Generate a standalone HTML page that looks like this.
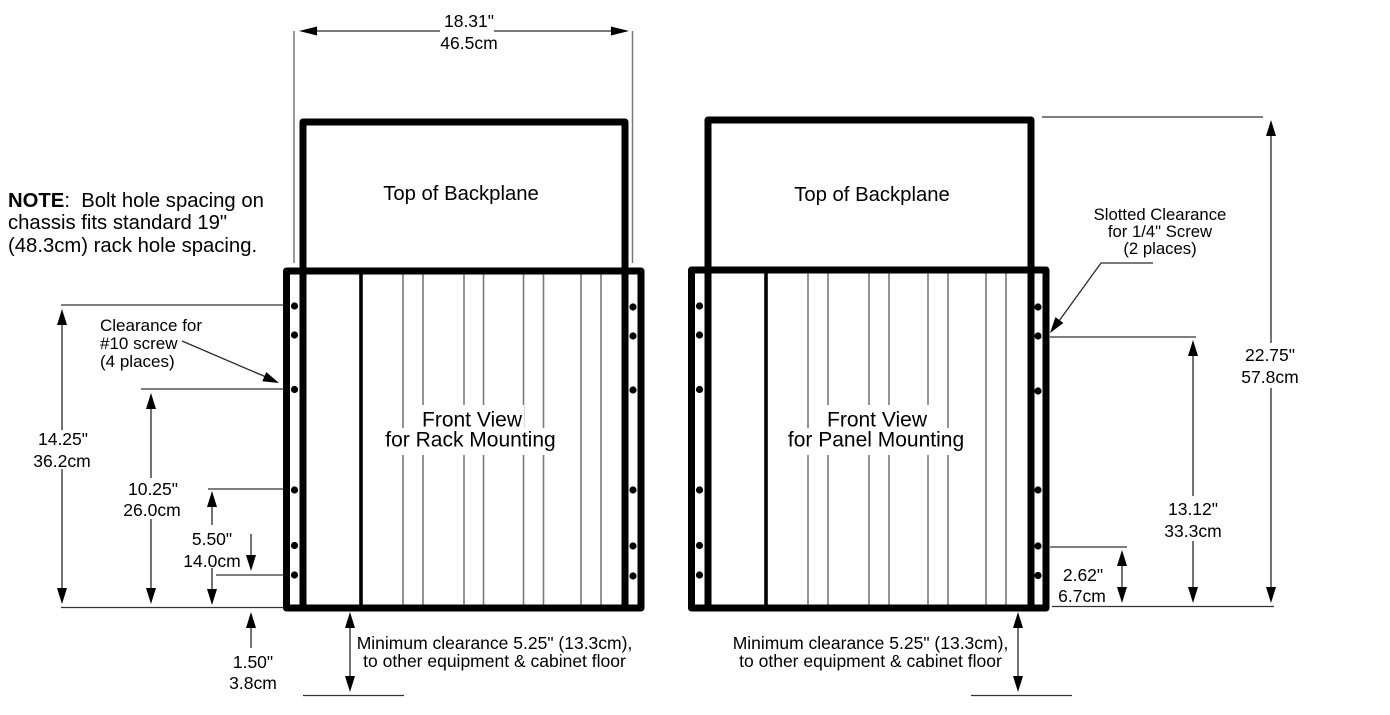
<!DOCTYPE html>
<html><head><meta charset="utf-8"><style>
html,body{margin:0;padding:0;background:#fff;}
svg{display:block;}
text{font-family:"Liberation Sans",Arial,sans-serif;fill:#000;}
.d{font-size:17.5px;text-anchor:middle;}
.c{font-size:17px;}
.t{font-size:20.3px;text-anchor:middle;}
.f{font-size:21px;text-anchor:middle;}
.dim{stroke:#2a2a2a;stroke-width:1.3;fill:none;}
.ext{stroke:#333;stroke-width:1.3;fill:none;}
.thin{stroke:#7a7a7a;stroke-width:1.6;}
.thk{stroke:#000;stroke-width:7;fill:none;stroke-linejoin:round;}
</style></head><body>
<svg width="1390" height="715" viewBox="0 0 1390 715" xmlns="http://www.w3.org/2000/svg">

<!-- ===== LEFT DIAGRAM ===== -->
<g class="thin">
<line x1="403" y1="271" x2="403" y2="608"/><line x1="423" y1="271" x2="423" y2="608"/>
<line x1="464" y1="271" x2="464" y2="608"/><line x1="483.5" y1="271" x2="483.5" y2="608"/>
<line x1="523.5" y1="271" x2="523.5" y2="608"/><line x1="543.5" y1="271" x2="543.5" y2="608"/>
<line x1="581" y1="271" x2="581" y2="608"/><line x1="601" y1="271" x2="601" y2="608"/>
</g>
<line x1="361" y1="271" x2="361" y2="608" stroke="#000" stroke-width="3.6"/>
<rect x="286.5" y="271" width="354.5" height="337" class="thk"/>
<path d="M303,608 V122 H625 V608" class="thk"/>
<g fill="#000">
<circle cx="294.5" cy="306" r="3.6"/><circle cx="294.5" cy="335" r="3.6"/><circle cx="294.5" cy="389.5" r="3.6"/>
<circle cx="294.5" cy="490" r="3.6"/><circle cx="294.5" cy="545.5" r="3.6"/><circle cx="294.5" cy="575" r="3.6"/>
<circle cx="633" cy="307" r="3.6"/><circle cx="633" cy="336" r="3.6"/><circle cx="633" cy="390" r="3.6"/>
<circle cx="633" cy="490" r="3.6"/><circle cx="633" cy="546" r="3.6"/><circle cx="633" cy="576" r="3.6"/>
</g>
<text class="t" x="461" y="200">Top of Backplane</text>
<rect x="420" y="405" width="104" height="23" fill="#fff"/>
<rect x="382" y="428" width="177" height="27" fill="#fff"/>
<text class="f" x="472" y="426.5">Front View</text>
<text class="f" x="470.5" y="446.5">for Rack Mounting</text>

<!-- 18.31 dimension -->
<line x1="294" y1="31" x2="294" y2="263" stroke="#7a7a7a" stroke-width="1.5"/>
<line x1="632.5" y1="31" x2="632.5" y2="263" stroke="#7a7a7a" stroke-width="1.5"/>
<line class="dim" x1="310" y1="31" x2="440" y2="31"/>
<line class="dim" x1="494" y1="31" x2="618" y2="31"/>
<polygon points="299,31 317,26.5 317,35.5" fill="#000"/>
<polygon points="629,31 611,26.5 611,35.5" fill="#000"/>
<text class="d" x="469" y="27">18.31"</text>
<text class="d" x="469" y="49">46.5cm</text>

<!-- NOTE -->
<text x="8" y="207" style="font-size:20.3px"><tspan font-weight="bold">NOTE</tspan>:&#160; Bolt hole spacing on</text>
<text x="8" y="229" style="font-size:20.3px">chassis fits standard 19"</text>
<text x="8" y="252" style="font-size:20.3px">(48.3cm) rack hole spacing.</text>

<!-- extension lines left -->
<g class="ext">
<line x1="61" y1="305" x2="284" y2="305"/>
<line x1="141" y1="389" x2="284" y2="389"/>
<line x1="208" y1="489" x2="284" y2="489"/>
<line x1="216" y1="575" x2="284" y2="575"/>
<line x1="61" y1="607.5" x2="283" y2="607.5"/>
<line x1="303" y1="695.5" x2="404" y2="695.5"/>
</g>
<g class="dim">
<line x1="62" y1="315" x2="62" y2="430"/><line x1="62" y1="469" x2="62" y2="597"/>
<line x1="151" y1="399" x2="151" y2="478"/><line x1="151" y1="519" x2="151" y2="597"/>
<line x1="212" y1="503" x2="212" y2="525"/><line x1="212" y1="568" x2="212" y2="597"/>
<line x1="251" y1="534" x2="251" y2="560"/>
<line x1="251" y1="624" x2="251" y2="648"/>
<line x1="350" y1="624" x2="350" y2="681"/>
</g>
<g fill="#000">
<polygon points="62,309 57,325 67,325"/><polygon points="62,604 57,588 67,588"/>
<polygon points="151,393 146,409 156,409"/><polygon points="151,604 146,588 156,588"/>
<polygon points="212,491 207,507 217,507"/><polygon points="212,605 207,589 217,589"/>
<polygon points="251,571 246,555 256,555"/>
<polygon points="251,612 246,628 256,628"/>
<polygon points="350,612 345,628 355,628"/><polygon points="350,692 345,676 355,676"/>
</g>
<text class="d" x="63" y="445">14.25"</text>
<text class="d" x="62" y="467">36.2cm</text>
<text class="d" x="153" y="495">10.25"</text>
<text class="d" x="152" y="516">26.0cm</text>
<text class="d" x="212" y="545">5.50"</text>
<text class="d" x="212" y="567">14.0cm</text>
<text class="d" x="253" y="668">1.50"</text>
<text class="d" x="253" y="689">3.8cm</text>

<!-- clearance #10 -->
<text class="c" x="100" y="331">Clearance for</text>
<text class="c" x="100" y="349">#10 screw</text>
<text class="c" x="100" y="367">(4 places)</text>
<line class="dim" x1="182" y1="341" x2="266" y2="377"/>
<polygon points="279,383 262.3,381.2 266.3,372.1" fill="#000"/>

<text class="d" x="494.5" y="649">Minimum clearance 5.25" (13.3cm),</text>
<text class="d" x="494.5" y="667">to other equipment &amp; cabinet floor</text>

<!-- ===== RIGHT DIAGRAM ===== -->
<g class="thin">
<line x1="808" y1="270" x2="808" y2="608"/><line x1="828" y1="270" x2="828" y2="608"/>
<line x1="869" y1="270" x2="869" y2="608"/><line x1="889" y1="270" x2="889" y2="608"/>
<line x1="928" y1="270" x2="928" y2="608"/><line x1="948" y1="270" x2="948" y2="608"/>
<line x1="986" y1="270" x2="986" y2="608"/><line x1="1006" y1="270" x2="1006" y2="608"/>
</g>
<line x1="766" y1="270" x2="766" y2="608" stroke="#000" stroke-width="3.6"/>
<rect x="691.5" y="270" width="354.5" height="338" class="thk"/>
<path d="M708,608 V120 H1031 V608" class="thk"/>
<g fill="#000">
<circle cx="699.5" cy="306" r="3.6"/><circle cx="699.5" cy="335" r="3.6"/><circle cx="699.5" cy="389.5" r="3.6"/>
<circle cx="699.5" cy="490" r="3.6"/><circle cx="699.5" cy="545.5" r="3.6"/><circle cx="699.5" cy="575" r="3.6"/>
<circle cx="1038" cy="307" r="3.6"/><circle cx="1038" cy="336" r="3.6"/><circle cx="1038" cy="391" r="3.6"/>
<circle cx="1038" cy="490" r="3.6"/><circle cx="1038" cy="546" r="3.6"/><circle cx="1038" cy="575.5" r="3.6"/>
</g>
<text class="t" x="872" y="201">Top of Backplane</text>
<rect x="825" y="405" width="104" height="23" fill="#fff"/>
<rect x="786" y="428" width="181" height="27" fill="#fff"/>
<text class="f" x="877" y="426.5">Front View</text>
<text class="f" x="876" y="446.5">for Panel Mounting</text>

<g class="ext">
<line x1="1042" y1="117" x2="1263" y2="117"/>
<line x1="1050" y1="337" x2="1196" y2="337"/>
<line x1="1050" y1="547" x2="1127" y2="547"/>
<line x1="1052" y1="606.5" x2="1274" y2="606.5"/>
<line x1="971" y1="695.5" x2="1072" y2="695.5"/>
</g>
<g class="dim">
<line x1="1271" y1="130" x2="1271" y2="343"/><line x1="1271" y1="388" x2="1271" y2="594"/>
<line x1="1193" y1="350" x2="1193" y2="496"/><line x1="1193" y1="541" x2="1193" y2="594"/>
<line x1="1122" y1="560" x2="1122" y2="594"/>
<line x1="1018" y1="624" x2="1018" y2="681"/>
</g>
<g fill="#000">
<polygon points="1271,120 1266,136 1276,136"/><polygon points="1271,603 1266,587 1276,587"/>
<polygon points="1193,340 1188,356 1198,356"/><polygon points="1193,603 1188,587 1198,587"/>
<polygon points="1122,550 1117,566 1127,566"/><polygon points="1122,603 1117,587 1127,587"/>
<polygon points="1018,612 1013,628 1023,628"/><polygon points="1018,692 1013,676 1023,676"/>
</g>
<text class="d" x="1270" y="361">22.75"</text>
<text class="d" x="1270" y="383">57.8cm</text>
<text class="d" x="1193" y="515">13.12"</text>
<text class="d" x="1193" y="537">33.3cm</text>
<text class="d" x="1083" y="581">2.62"</text>
<text class="d" x="1082" y="602">6.7cm</text>

<text class="c" x="1160" y="220" text-anchor="middle" style="font-size:16.7px">Slotted Clearance</text>
<text class="c" x="1160" y="237" text-anchor="middle" style="font-size:16.7px">for 1/4" Screw</text>
<text class="c" x="1160" y="254" text-anchor="middle" style="font-size:16.7px">(2 places)</text>
<polyline class="dim" points="1153,263 1101,263 1059,321"/>
<polygon points="1050,333 1063.4,323.05 1055.4,317.15" fill="#000"/>

<text class="d" x="870.5" y="649">Minimum clearance 5.25" (13.3cm),</text>
<text class="d" x="870.5" y="667">to other equipment &amp; cabinet floor</text>
</svg>
</body></html>
